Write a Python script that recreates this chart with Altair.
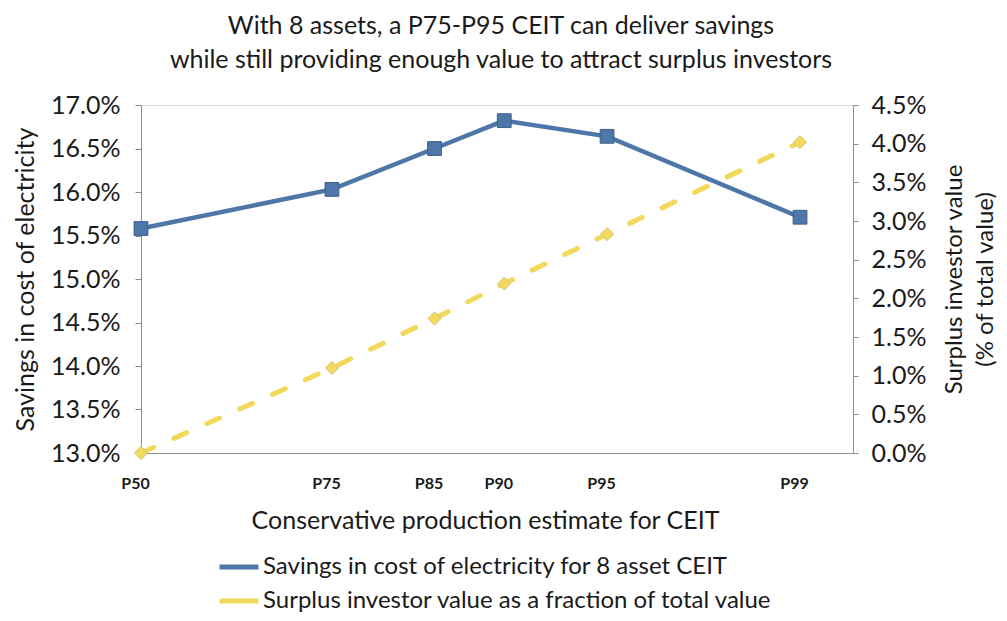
import altair as alt
import pandas as pd

# ---- data ----
pct_labels = ["P50", "P75", "P85", "P90", "P95", "P99"]
# horizontal position of each estimate (normal-quantile spacing)
z_pos = [0.0, 0.674, 1.036, 1.282, 1.645, 2.326]
savings = [0.1558, 0.1603, 0.1650, 0.1682, 0.1664, 0.1571]
surplus = [0.0000, 0.0110, 0.0174, 0.0219, 0.0283, 0.0402]

series_names = [
    "Savings in cost of electricity for 8 asset CEIT",
    "Surplus investor value as a fraction of total value",
]
series_colors = ["#4E76A8", "#F2D95C"]

left_ticks = [0.13, 0.135, 0.14, 0.145, 0.15, 0.155, 0.16, 0.165, 0.17]
right_ticks = [0.0, 0.005, 0.01, 0.015, 0.02, 0.025, 0.03, 0.035, 0.04, 0.045]

title_lines = [
    "With 8 assets, a P75-P95 CEIT can deliver savings",
    "while still providing enough value to attract surplus investors",
]

# ---- tables ----
df_s = pd.DataFrame({"z": z_pos, "label": pct_labels, "value": savings, "series": series_names[0]})
df_p = pd.DataFrame({"z": z_pos, "label": pct_labels, "value": surplus, "series": series_names[1]})

FONT = "Lato"
TXT = "#1a1a1a"
AX = "#8c8c8c"

label_expr = " : ".join(
    f"abs(datum.value - {z}) < 0.001 ? '{l}'" for z, l in zip(z_pos, pct_labels)
) + " : ''"

x_enc = alt.X(
    "z:Q",
    scale=alt.Scale(domain=[0, 2.513], nice=False, zero=False),
    axis=alt.Axis(
        values=z_pos,
        labelExpr=label_expr,
        title="Conservative production estimate for CEIT",
        grid=False,
        ticks=False,
        domainColor=AX,
        labelFont=FONT,
        labelFontWeight="bold",
        labelFontSize=16,
        labelColor=TXT,
        labelPadding=22,
        labelOffset=-6,
        labelFlush=False,
        labelOverlap=False,
        titleFont=FONT,
        titleFontSize=25,
        titleFontWeight="normal",
        titleColor=TXT,
        titlePadding=17,
        titleX=344,
    ),
)

color_enc = alt.Color(
    "series:N",
    scale=alt.Scale(domain=series_names, range=series_colors),
    legend=alt.Legend(
        title=None,
        orient="none",
        legendX=76,
        legendY=440,
        direction="vertical",
        symbolType="stroke",
        symbolSize=1521,
        symbolStrokeWidth=5,
        labelFont=FONT,
        labelFontSize=24,
        labelColor=TXT,
        labelOffset=2,
        labelLimit=0,
        rowPadding=-3,
    ),
)

y_left = alt.Y(
    "value:Q",
    scale=alt.Scale(domain=[0.13, 0.17], nice=False, zero=False),
    axis=alt.Axis(
        values=left_ticks,
        format=".1%",
        title="Savings in cost of electricity",
        grid=False,
        domainColor=AX,
        tickColor=AX,
        tickSize=6,
        labelFont=FONT,
        labelFontSize=25,
        labelColor=TXT,
        labelPadding=15,
        titleFont=FONT,
        titleFontSize=25,
        titleFontWeight="normal",
        titleColor=TXT,
        titlePadding=12,
    ),
)

y_right = alt.Y(
    "value:Q",
    scale=alt.Scale(domain=[0.0, 0.045], nice=False, zero=False),
    axis=alt.Axis(
        orient="right",
        values=right_ticks,
        format=".1%",
        title=["Surplus investor value", "(% of total value)"],
        titleAngle=-90,
        grid=False,
        domainColor=AX,
        tickColor=AX,
        tickSize=5,
        labelFont=FONT,
        labelFontSize=25,
        labelColor=TXT,
        labelPadding=13,
        titleFont=FONT,
        titleFontSize=24,
        titleFontWeight="normal",
        titleColor=TXT,
        titleLineHeight=31,
        titlePadding=10,
    ),
)

left_line = alt.Chart(df_s).mark_line(strokeWidth=4.5).encode(x=x_enc, y=y_left, color=color_enc)
left_pts = alt.Chart(df_s).mark_point(
    shape="square", filled=True, size=190, opacity=1, stroke="#3d5f8a", strokeWidth=1
).encode(x=x_enc, y=y_left, color=color_enc)

right_line = alt.Chart(df_p).mark_line(
    strokeWidth=5, strokeDash=[14, 22], strokeCap="round"
).encode(x=x_enc, y=y_right, color=color_enc)
right_pts = alt.Chart(df_p).mark_point(
    shape="diamond", filled=True, size=180, opacity=1, stroke="#c9c09a", strokeWidth=0.8
).encode(x=x_enc, y=y_right, color=color_enc)

left = alt.layer(left_line, left_pts)
right = alt.layer(right_line, right_pts)

chart = (
    alt.layer(left, right)
    .resolve_scale(y="independent")
    .properties(
        width=712,
        height=348,
        padding={"left": 133, "top": 97, "right": 146, "bottom": 160},
        autosize=alt.AutoSizeParams(type="none"),
        title=alt.TitleParams(
            title_lines,
            font=FONT,
            fontSize=25,
            fontWeight="normal",
            color=TXT,
            lineHeight=34,
            anchor="middle",
            offset=20,
            dx=4,
        ),
    )
    .configure_view(stroke=None)
    .configure(background="white")
)

chart.save("out.html", embed_options={"renderer": "svg", "actions": False})
